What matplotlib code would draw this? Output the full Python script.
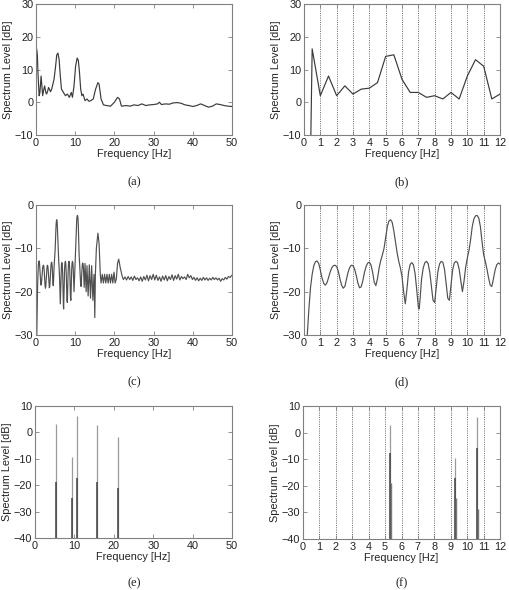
import matplotlib
matplotlib.use("Agg")
import matplotlib.pyplot as plt

# ---------------- data ----------------
a_points = [(0.1, -10), (0.1, 16.5), (0.2, 16), (0.35, 14.5), (0.5, 9), (0.8, 2), (1.0, 3), (1.3, 8),
            (1.5, 5), (1.7, 2), (2.0, 4), (2.2, 5), (2.5, 3), (2.7, 2.5), (3.0, 3.5), (3.2, 4.5),
            (3.5, 3.8), (3.7, 3.2), (4.0, 4), (4.2, 5), (4.6, 7), (5.0, 11), (5.3, 14.5), (5.6, 15),
            (5.9, 13), (6.2, 8), (6.5, 4), (7.0, 3), (7.5, 2), (8.0, 2.5), (8.5, 1.5), (9.0, 3),
            (9.3, 1.5), (9.7, 5), (10.1, 11), (10.5, 13.5), (10.8, 12.8), (11.1, 9), (11.4, 4),
            (11.7, 2), (12.0, 2.5), (12.5, 0.5), (13.0, 1), (13.5, 0.3), (14.0, 0.5), (14.6, 1),
            (15.2, 4), (15.8, 6), (16.1, 5.5), (16.6, 1), (17.2, -0.8), (18, -1), (19, -1.2),
            (20, 0), (20.8, 1.5), (21.3, 1), (21.8, -1.2), (23, -1), (24, -1.2), (25, -0.8),
            (26, -1), (27, -0.5), (28, -1), (29, -0.8), (30, -0.7), (31, -0.5), (31.5, 0),
            (32, -0.7), (33, -0.5), (34, -0.6), (35, -0.2), (36, -0.1), (37, -0.3), (38, -0.8),
            (39, -1), (40, -1.3), (41, -1), (42, -0.5), (43, -1), (44, -1.5), (45, -1.2),
            (46, -0.5), (47, -0.7), (48, -1), (49, -1.2), (50, -1.3)]

b_points = [(0.42, -10), (0.5, 16.3), (1.0, 2), (1.5, 8), (2.0, 2), (2.5, 5), (3.0, 2.5), (3.5, 4),
            (4.0, 4.3), (4.5, 6), (5.0, 14), (5.5, 14.5), (6.0, 7), (6.5, 3), (7.0, 3), (7.5, 1.5),
            (8.0, 2), (8.5, 1), (9.0, 3), (9.5, 1), (10.0, 8), (10.5, 13), (11.0, 11), (11.5, 1),
            (12.0, 2.5)]

c_points = [(0.2, -30), (0.3, -24), (0.4, -19), (0.5, -16), (0.6, -14), (0.7, -13.1), (0.8, -12.9),
            (0.9, -13.5), (1.0, -15), (1.1, -16.8), (1.2, -18), (1.3, -18.5), (1.4, -18),
            (1.5, -16.8), (1.6, -15.5), (1.7, -14.5), (1.8, -14), (1.9, -13.9), (2.0, -14.2),
            (2.1, -15.3), (2.2, -17), (2.3, -18.5), (2.4, -19.2), (2.5, -18.8), (2.6, -17.2),
            (2.7, -15.5), (2.8, -14.4), (2.9, -13.9), (3.0, -14), (3.1, -14.8), (3.2, -16.3),
            (3.3, -18), (3.4, -19.1), (3.5, -18.9), (3.6, -17.5), (3.7, -15.6), (3.8, -14.2),
            (3.9, -13.4), (4.0, -13.2), (4.1, -13.8), (4.2, -15.5), (4.3, -17.8), (4.4, -18.6),
            (4.5, -17), (4.6, -14.5), (4.7, -12.8), (4.8, -11.5), (4.9, -10), (5.0, -7.5),
            (5.1, -5), (5.2, -3.7), (5.3, -3.4), (5.4, -4), (5.5, -6), (5.6, -8.5), (5.7, -11),
            (5.8, -13), (5.9, -14.5), (6.0, -16.5), (6.1, -20), (6.2, -22.8), (6.3, -19.5),
            (6.4, -15.5), (6.5, -13.7), (6.6, -13.3), (6.7, -13.8), (6.8, -15.8), (6.9, -19.5),
            (7.0, -23.5), (7.05, -24), (7.1, -22), (7.2, -17), (7.3, -14.5), (7.4, -13.3),
            (7.5, -13), (7.6, -13.5), (7.7, -15.5), (7.8, -18.8), (7.9, -22), (8.0, -22.5),
            (8.1, -19), (8.2, -15.3), (8.3, -13.6), (8.4, -13), (8.5, -13.2), (8.6, -14.8),
            (8.7, -18), (8.8, -21.5), (8.9, -22), (9.0, -18.5), (9.1, -15), (9.2, -13.4),
            (9.3, -13), (9.4, -13.3), (9.5, -14.8), (9.6, -17.5), (9.7, -20), (9.8, -17.5),
            (9.9, -14.3), (10.0, -12.2), (10.1, -10.5), (10.2, -8), (10.3, -5), (10.4, -3.2),
            (10.5, -2.5), (10.6, -2.4), (10.7, -3), (10.8, -5), (10.9, -8.5), (11.0, -11.5),
            (11.1, -13), (11.2, -14.8), (11.3, -16.8), (11.4, -18.5), (11.5, -18.8), (11.6, -17),
            (11.7, -15), (11.8, -13.8), (11.9, -13.4), (12.0, -13.6), (12.1, -14.5), (12.3, -19),
            (12.5, -13.5), (12.8, -20), (13.0, -14), (13.3, -21), (13.6, -13.8), (13.9, -21.5),
            (14.2, -14), (14.5, -22), (14.8, -16), (15.0, -26), (15.15, -16), (15.4, -10),
            (15.8, -6.5), (16.1, -9), (16.4, -16), (16.6, -18), (16.9, -16), (17.2, -18),
            (17.5, -16), (17.8, -18), (18.1, -16), (18.4, -18), (18.7, -16), (19.0, -18),
            (19.3, -16), (19.6, -18), (19.9, -15.5), (20.2, -18), (20.5, -17), (20.8, -13.5),
            (21.1, -12.5), (21.5, -14.5), (22.0, -16.5), (22.3, -17.2), (22.7, -16.6),
            (23.1, -17.3), (23.5, -16.5), (23.9, -17.2), (24.3, -16.6), (24.7, -17.4),
            (25.1, -16.4), (25.5, -17.2), (25.9, -16.8), (26.3, -17.5), (26.7, -16.6),
            (27.1, -17.6), (27.5, -16.5), (27.9, -17.3), (28.3, -16.2), (28.7, -17.5),
            (29.1, -16.3), (29.5, -17.2), (29.9, -16.0), (30.3, -17.3), (30.7, -16.2),
            (31.1, -17.4), (31.5, -16.6), (31.9, -17.6), (32.3, -16.4), (32.7, -17.3),
            (33.1, -16.3), (33.5, -17.5), (33.9, -16.5), (34.3, -17.2), (34.7, -16.1),
            (35.1, -17.4), (35.5, -16.3), (35.9, -17.1), (36.3, -16.0), (36.7, -17.3),
            (37.1, -16.5), (37.5, -17.0), (37.9, -16.6), (38.3, -17.2), (38.7, -16.0),
            (39.1, -16.8), (39.5, -16.3), (39.9, -17.2), (40.3, -16.7), (40.7, -17.4),
            (41.1, -16.8), (41.5, -17.5), (41.9, -16.9), (42.3, -17.4), (42.7, -16.7),
            (43.1, -17.3), (43.5, -16.8), (43.9, -17.4), (44.3, -16.9), (44.7, -17.3),
            (45.1, -16.7), (45.5, -17.2), (45.9, -16.8), (46.3, -17.3), (46.7, -16.9),
            (47.1, -17.6), (47.5, -17.0), (47.9, -17.3), (48.3, -16.7), (48.7, -17.1),
            (49.1, -16.5), (49.5, -16.7), (50.0, -16.2)]

# stems in (e): frequency, top level (light), lower level (dark)
e_freq = [5.27, 9.27, 10.57, 15.8, 21.05]
e_top = [3.1, -9.4, 6.1, 2.8, -1.8]
e_low = [-18.7, -24.7, -17.2, -18.7, -21.2]

# stems in (f): frequency, top (light), dark level, secondary line level
f_freq = [5.27, 9.27, 10.6]
f_top = [2.9, -9.4, 6.0]
f_dark = [-7.8, -17.2, -5.7]
f_low_freq = [5.33, 9.29, 10.64]
f_low = [-18.8, -24.7, -28.9]

captions = ["(a)", "(b)", "(c)", "(d)", "(e)", "(f)"]

# ---------------- style ----------------
plt.rcParams['font.family'] = ['Liberation Sans', 'DejaVu Sans']
W, H = 510, 590
fig = plt.figure(figsize=(W / 100, H / 100), dpi=100)

def rect(l, r, t, b):
    return [l / W, 1 - b / H, (r - l) / W, (b - t) / H]

rects = [rect(36, 232, 4, 135), rect(304, 500, 4, 135),
         rect(36, 232, 205, 335), rect(304, 500, 205, 335),
         rect(35, 232, 406, 538), rect(303, 500, 406, 539)]
axes = [fig.add_axes(r) for r in rects]

frame_col = '#808080'
line_col = '#3a3a3a'

def style(ax, xlim, ylim, xticks, yticks, grid=False):
    ax.set_xlim(*xlim)
    ax.set_ylim(*ylim)
    ax.set_xticks(xticks)
    ax.set_yticks(yticks)
    ax.tick_params(direction='in', top=True, right=True, length=3, width=0.6,
                   colors=frame_col, labelcolor='#222222', labelsize=7.8, pad=2)
    for s in ax.spines.values():
        s.set_color(frame_col)
        s.set_linewidth(0.8)
    ax.set_xlabel('Frequency [Hz]', fontsize=7.8, color='#222222', labelpad=1)
    ax.set_ylabel('Spectrum Level [dB]', fontsize=7.8, color='#222222', labelpad=1)
    if grid:
        for xv in xticks[1:-1]:
            ax.axvline(xv, color='#555555', linestyle=(0, (1.2, 1.5)), linewidth=0.6, zorder=0)

# (a)
ax = axes[0]
fa, la = zip(*a_points)
ax.plot(fa, la, color=line_col, linewidth=0.85)
style(ax, (0, 50), (-10, 30), list(range(0, 51, 10)), list(range(-10, 31, 10)))

# (b)
ax = axes[1]
fb, lb = zip(*b_points)
ax.plot(fb, lb, color=line_col, linewidth=0.85)
style(ax, (0, 12), (-10, 30), list(range(0, 13)), list(range(-10, 31, 10)), grid=True)

# (c)
ax = axes[2]
fc, lc = zip(*c_points)
ax.plot(fc, lc, color='#505050', linewidth=0.85)
style(ax, (0, 50), (-30, 0), list(range(0, 51, 10)), list(range(-30, 1, 10)))

# (d)
ax = axes[3]
ax.plot(fc, lc, color='#505050', linewidth=0.85)
style(ax, (0, 12), (-30, 0), list(range(0, 13)), list(range(-30, 1, 10)), grid=True)

# (e)
ax = axes[4]
ax.vlines(e_freq, -40, e_top, color='#9a9a9a', linewidth=0.9)
ax.vlines(e_freq, -40, e_low, color='#404040', linewidth=1.1)
style(ax, (0, 50), (-40, 10), list(range(0, 51, 10)), list(range(-40, 11, 10)))

# (f)
ax = axes[5]
ax.vlines(f_freq, -40, f_top, color='#9a9a9a', linewidth=0.9)
ax.vlines(f_freq, -40, f_dark, color='#404040', linewidth=1.1)
ax.vlines(f_low_freq, -40, f_low, color='#7a7a7a', linewidth=1.0)
style(ax, (0, 12), (-40, 10), list(range(0, 13)), list(range(-40, 11, 10)), grid=True)

# captions
cap_pos = [(134, 182), (402, 182), (134, 382), (402, 382), (134, 583), (402, 583)]
for txt, (x, y) in zip(captions, cap_pos):
    fig.text(x / W, 1 - y / H, txt, ha='center', va='center', fontsize=9,
             family=['Liberation Serif', 'DejaVu Serif'], color='#222222')

fig.savefig('out.png', dpi=100)
